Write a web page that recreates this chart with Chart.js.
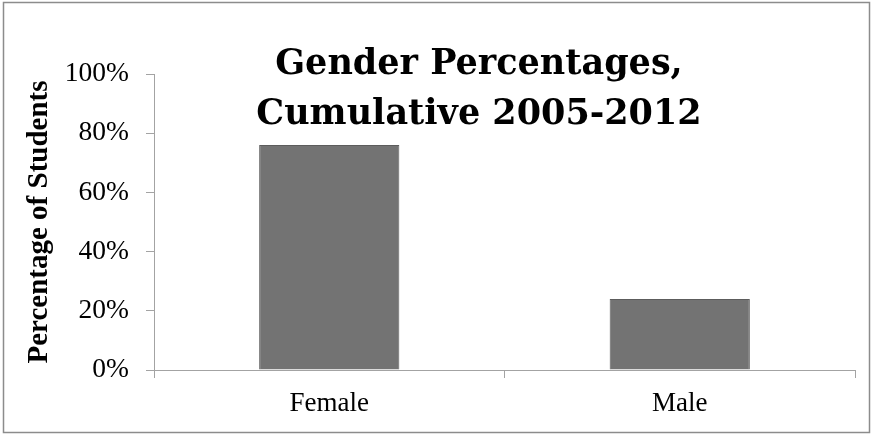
<!DOCTYPE html>
<html>
<head>
<meta charset="utf-8">
<script src="https://cdn.jsdelivr.net/npm/chart.js@4/dist/chart.umd.min.js"></script>
<style>
  html, body { margin: 0; padding: 0; background: #ffffff; }
  canvas { display: block; }
</style>
</head>
<body>
<canvas id="chart" width="873" height="434"></canvas>
<script>
// Share of students by gender, 2005-2012 combined
const categories = ['Female', 'Male'];
const percentages = [76, 24];
const titleLines = ['Gender Percentages,', 'Cumulative 2005-2012'];
const yAxisTitle = 'Percentage of Students';

const SERIF = '"Liberation Serif", "Times New Roman", serif';
const HEADING_SERIF = '"DejaVu Serif", "Liberation Serif", serif';
const AXIS_GREY = '#a3a3a3';

// Outer frame around the whole chart
const framePlugin = {
  id: 'frame',
  beforeDraw(chart) {
    const ctx = chart.ctx;
    ctx.save();
    ctx.fillStyle = '#ffffff';
    ctx.fillRect(0, 0, chart.width, chart.height);
    ctx.strokeStyle = '#8c8c8c';
    ctx.lineWidth = 1.5;
    ctx.strokeRect(3.5, 2.5, chart.width - 7, chart.height - 4);
    ctx.restore();
  }
};

// Two-line heading that sits over the upper part of the plot
const headingPlugin = {
  id: 'heading',
  afterDraw(chart) {
    const ctx = chart.ctx;
    ctx.save();
    ctx.fillStyle = '#000000';
    ctx.font = 'bold 35px ' + HEADING_SERIF;
    ctx.textAlign = 'center';
    ctx.textBaseline = 'alphabetic';
    const cx = 479;
    ctx.fillText(titleLines[0], cx, 74);
    ctx.fillText(titleLines[1], cx, 124);
    ctx.restore();
  }
};

new Chart(document.getElementById('chart'), {
  type: 'bar',
  data: {
    labels: categories,
    datasets: [{
      data: percentages,
      backgroundColor: '#737373',
      borderColor: '#5c5c5c',
      borderWidth: 1,
      barPercentage: 0.4,
      categoryPercentage: 1.0
    }]
  },
  options: {
    responsive: false,
    animation: false,
    devicePixelRatio: 1,
    layout: { padding: { left: 0, right: 18, top: 74, bottom: 0 } },
    plugins: {
      legend: { display: false },
      title: { display: false },
      tooltip: { enabled: false }
    },
    scales: {
      x: {
        grid: {
          offset: true,
          drawOnChartArea: false,
          drawTicks: true,
          tickLength: 8,
          color: AXIS_GREY
        },
        border: { color: AXIS_GREY, width: 1 },
        ticks: {
          color: '#000000',
          font: { family: SERIF, size: 27 },
          padding: 10,
          maxRotation: 0
        },
        afterFit(scale) { scale.height = 64; }
      },
      y: {
        min: 0,
        max: 100,
        grid: {
          drawOnChartArea: false,
          drawTicks: true,
          tickLength: 8,
          color: AXIS_GREY
        },
        border: { color: AXIS_GREY, width: 1 },
        ticks: {
          stepSize: 20,
          color: '#000000',
          font: { family: SERIF, size: 27.5 },
          padding: 17,
          callback: (v) => v + '%'
        },
        title: {
          display: true,
          text: yAxisTitle,
          color: '#000000',
          font: { family: SERIF, size: 29, weight: 'bold' },
          padding: { top: 22, bottom: 0 }
        },
        afterFit(scale) { scale.width = 154; }
      }
    }
  },
  plugins: [framePlugin, headingPlugin]
});
</script>
</body>
</html>
